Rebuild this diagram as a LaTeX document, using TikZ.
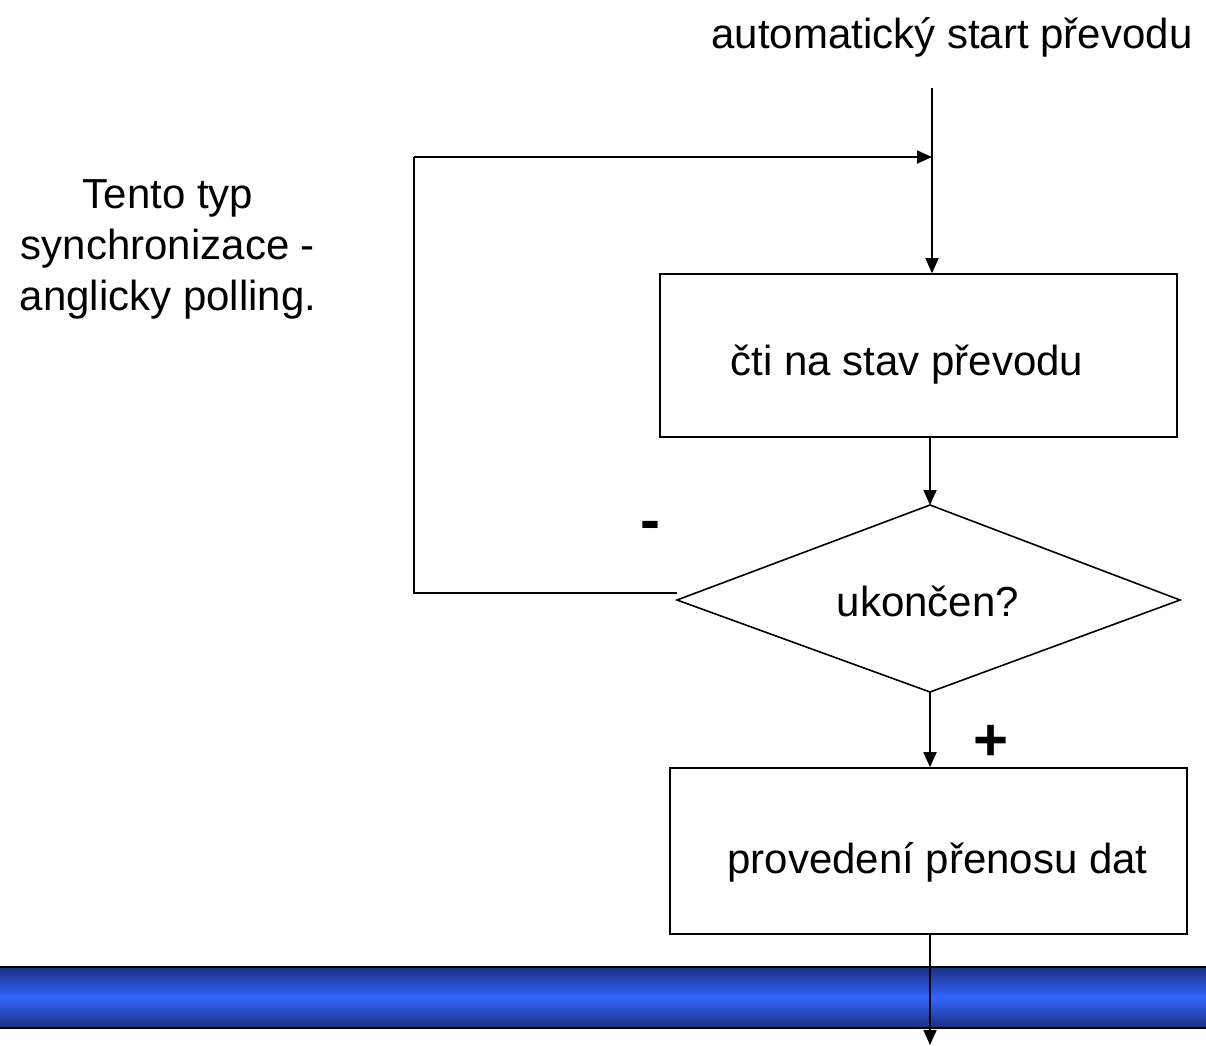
\documentclass[tikz,border=0pt]{standalone}
\usepackage{fontspec}
\setmainfont{Liberation Sans}
\usetikzlibrary{arrows.meta}
\definecolor{barmid}{HTML}{3366FF}
\definecolor{bardark}{HTML}{1A2F80}
\begin{document}
\begin{tikzpicture}[x=1pt,y=-1pt,
  txt/.style={font=\fontsize{42}{51}\selectfont, inner sep=0pt},
  sign/.style={font=\fontsize{60}{60}\selectfont\bfseries, inner sep=0pt},
  procbox/.style={draw=black, line width=1.6pt, minimum width=517pt, inner sep=0pt, font=\fontsize{42}{51}\selectfont},
  flow/.style={line width=1.8pt, -{Triangle[length=15pt,width=13pt]}},
  plain/.style={line width=1.8pt}]
\useasboundingbox (0,0) rectangle (1206,1045);

% blue band across the bottom
\shade[top color=bardark, bottom color=bardark, middle color=barmid] (0,967) rectangle (1206,1028);
\draw[line width=1.6pt] (0,967) -- (1206,967);
\draw[line width=1.6pt] (0,1028) -- (1206,1028);

% texts
\node[txt] (start) at (952,37) {automatický start převodu};
\node[txt, align=center] (note) at (168,249) {Tento typ\\synchronizace -\\anglicky polling.};

% boxes
\node[procbox, minimum height=163pt] (read) at (918.5,355.5) {\raisebox{-9pt}[\height][\depth]{\hspace*{-23pt}čti na stav převodu}};
\node[procbox, minimum height=166pt] (xfer) at (928.5,851) {\raisebox{-11pt}[\height][\depth]{\hspace*{18pt}provedení přenosu dat}};

% decision diamond
\coordinate (dtop) at (930,505);
\coordinate (dright) at (1180,600);
\coordinate (dbot) at (930,692);
\coordinate (dleft) at (677,600);
\draw[line width=1.6pt] (dtop) -- (dright) -- (dbot) -- (dleft) -- cycle;
\node[txt] (ask) at (928,601) {ukončen?};

% entry and loop
\coordinate (s0) at (932,88);
\coordinate (merge) at (932,157);
\coordinate (lb) at (414,593);
\coordinate (lt) at (414,157);
\draw[plain] (s0) -- (merge);
\draw[flow] (merge) -- (s0 |- read.north);
\draw[plain] (dleft |- lb) -- (lb) -- (lt);
\draw[flow] (lt) -- (merge);

% flow between blocks
\draw[flow] (read.south -| dtop) -- (dtop);
\draw[flow] (dbot) -- (dbot |- xfer.north);
\coordinate (end) at (930,1045);
\draw[flow] (xfer.south -| end) -- (end);

% branch labels
\node[sign] (minus) at (650,531) {-};
\node[sign] (plus) at (991,743) {+};
\end{tikzpicture}
\end{document}
